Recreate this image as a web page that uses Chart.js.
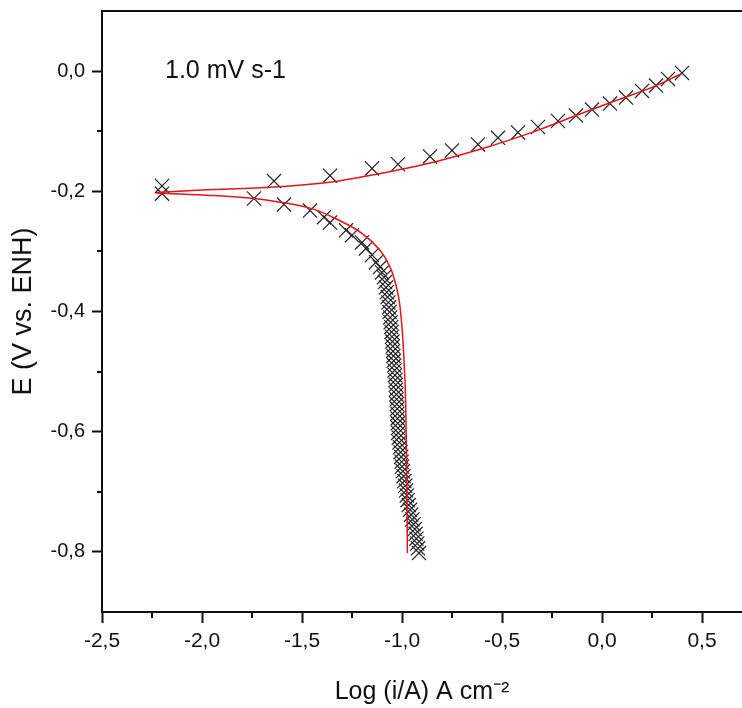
<!DOCTYPE html>
<html lang="en">
<head>
    <meta charset="UTF-8">
    <title>Tafel plot</title>
    <style>
        html, body {
            margin: 0;
            padding: 0;
            background: #fff;
        }
    </style>
</head>
<body>
    <canvas id="tafel" width="742" height="708"></canvas>

    <script src="https://cdn.jsdelivr.net/npm/chart.js"></script>
    <script>
        // measured points (crosses)
        const anodicLogI = [-2.20, -1.64, -1.36, -1.15, -1.02, -0.86, -0.75, -0.62, -0.52, -0.42,
                            -0.32, -0.22, -0.13, -0.05, 0.04, 0.12, 0.20, 0.27, 0.33, 0.40];
        const anodicE = [-0.191, -0.183, -0.174, -0.162, -0.155, -0.142, -0.132, -0.122, -0.111, -0.102,
                         -0.093, -0.083, -0.074, -0.064, -0.054, -0.044, -0.033, -0.024, -0.013, -0.003];

        const cathodicLogI = [-2.20, -1.74, -1.59, -1.46, -1.39, -1.36, -1.28, -1.25, -1.20, -1.18,
                              -1.15, -1.13, -1.11, -1.10, -1.090, -1.085, -1.080, -1.076, -1.072, -1.068,
                              -1.065, -1.062, -1.059, -1.057, -1.054, -1.052, -1.050, -1.048, -1.046, -1.045,
                              -1.043, -1.041, -1.039, -1.037, -1.035, -1.033, -1.031, -1.030, -1.028, -1.027,
                              -1.026, -1.024, -1.023, -1.022, -1.021, -1.020, -1.019, -1.016, -1.013, -1.010,
                              -1.007, -1.004, -1.002, -1.000, -0.996, -0.992, -0.988, -0.984, -0.980, -0.976,
                              -0.972, -0.966, -0.960, -0.954, -0.948, -0.942, -0.936, -0.932, -0.928, -0.924,
                              -0.920, -0.915];
        const cathodicE = [-0.204, -0.212, -0.222, -0.232, -0.243, -0.252, -0.265, -0.273, -0.285, -0.295,
                           -0.306, -0.318, -0.326, -0.335, -0.343, -0.351, -0.360, -0.368, -0.376, -0.385,
                           -0.393, -0.401, -0.410, -0.418, -0.426, -0.434, -0.442, -0.450, -0.458, -0.466,
                           -0.474, -0.482, -0.490, -0.498, -0.506, -0.514, -0.522, -0.530, -0.538, -0.546,
                           -0.554, -0.562, -0.570, -0.578, -0.586, -0.594, -0.602, -0.610, -0.618, -0.626,
                           -0.634, -0.642, -0.650, -0.658, -0.666, -0.674, -0.682, -0.690, -0.698, -0.706,
                           -0.714, -0.722, -0.730, -0.738, -0.746, -0.754, -0.762, -0.770, -0.778, -0.786,
                           -0.794, -0.802];

        // fitted curves (red)
        const fitAnodicLogI = [-2.23, -2.00, -1.64, -1.36, -1.15, -0.86, -0.55, -0.35, -0.13, 0.07, 0.25, 0.40];
        const fitAnodicE = [-0.202, -0.198, -0.193, -0.185, -0.173, -0.153, -0.124, -0.102, -0.074, -0.049, -0.027, -0.004];

        const fitCathodicLogI = [-2.23, -2.00, -1.74, -1.46, -1.31, -1.20, -1.11, -1.06, -1.035, -1.015,
                                 -1.00, -0.99, -0.983, -0.978, -0.973];
        const fitCathodicE = [-0.203, -0.206, -0.212, -0.228, -0.249, -0.270, -0.298, -0.326, -0.350, -0.380,
                              -0.426, -0.481, -0.536, -0.631, -0.802];

        // axis ticks
        const xMajorTicks = [-2.5, -2.0, -1.5, -1.0, -0.5, 0.0, 0.5];
        const xMinorTicks = [-2.25, -1.75, -1.25, -0.75, -0.25, 0.25];
        const yMajorTicks = [-0.8, -0.6, -0.4, -0.2, 0.0];
        const yMinorTicks = [-0.7, -0.5, -0.3, -0.1];

        const FONT = '"Liberation Sans", Arial, sans-serif';
        const INK = '#111';

        function pairs(xs, ys) {
            return xs.map((x, i) => ({ x: x, y: ys[i] }));
        }

        function commaLabel(v) {
            return Number(v).toFixed(1).replace('.', ',');
        }

        // top frame line, minor ticks and the scan-rate note
        const extras = {
            id: 'extras',
            afterDraw(chart) {
                const { ctx, chartArea: a, scales: { x, y } } = chart;
                ctx.save();
                ctx.strokeStyle = INK;
                ctx.lineWidth = 2;
                ctx.beginPath();
                ctx.moveTo(a.left - 1, a.top);
                ctx.lineTo(a.right, a.top);
                xMinorTicks.forEach(v => {
                    const px = Math.round(x.getPixelForValue(v));
                    ctx.moveTo(px, a.bottom);
                    ctx.lineTo(px, a.bottom + 6);
                });
                yMinorTicks.forEach(v => {
                    const py = Math.round(y.getPixelForValue(v));
                    ctx.moveTo(a.left, py);
                    ctx.lineTo(a.left - 5, py);
                });
                ctx.stroke();

                ctx.fillStyle = INK;
                ctx.font = '25px ' + FONT;
                ctx.textBaseline = 'alphabetic';
                ctx.fillText('1.0 mV s-1', x.getPixelForValue(-2.185), y.getPixelForValue(-0.0115));
                ctx.restore();
            }
        };

        const ctx = document.getElementById('tafel').getContext('2d');

        new Chart(ctx, {
            type: 'scatter',
            data: {
                datasets: [
                    {
                        label: 'fit anodic',
                        data: pairs(fitAnodicLogI, fitAnodicE),
                        showLine: true,
                        borderColor: '#e3151b',
                        borderWidth: 1.5,
                        pointRadius: 0,
                        tension: 0.35,
                        order: 1
                    },
                    {
                        label: 'fit cathodic',
                        data: pairs(fitCathodicLogI, fitCathodicE),
                        showLine: true,
                        borderColor: '#e3151b',
                        borderWidth: 1.5,
                        pointRadius: 0,
                        tension: 0.35,
                        order: 1
                    },
                    {
                        label: 'anodic',
                        data: pairs(anodicLogI, anodicE),
                        showLine: false,
                        pointStyle: 'crossRot',
                        pointRadius: 10,
                        pointBorderWidth: 1.2,
                        pointBorderColor: '#222',
                        order: 2
                    },
                    {
                        label: 'cathodic',
                        data: pairs(cathodicLogI, cathodicE),
                        showLine: false,
                        pointStyle: 'crossRot',
                        pointRadius: 10,
                        pointBorderWidth: 1.2,
                        pointBorderColor: '#222',
                        order: 2
                    }
                ]
            },
            options: {
                responsive: false,
                animation: false,
                layout: {
                    autoPadding: false,
                    padding: { top: 11, right: 0, bottom: 0, left: 0 }
                },
                plugins: {
                    legend: { display: false },
                    tooltip: { enabled: false }
                },
                scales: {
                    x: {
                        type: 'linear',
                        min: -2.5,
                        max: 0.7,
                        afterBuildTicks: s => { s.ticks = xMajorTicks.map(v => ({ value: v })); },
                        afterFit: s => {
                            s.height = 96;
                            s.paddingLeft = 0;
                            s.paddingRight = 0;
                        },
                        ticks: {
                            callback: v => commaLabel(v),
                            font: { family: FONT, size: 21 },
                            color: INK,
                            padding: 6,
                            maxRotation: 0,
                            autoSkip: false
                        },
                        grid: {
                            drawOnChartArea: false,
                            tickLength: 11,
                            tickWidth: 2,
                            color: INK
                        },
                        border: { color: INK, width: 2 },
                        title: {
                            display: true,
                            text: 'Log (i/A) A cm⁻²',
                            font: { family: FONT, size: 25 },
                            color: INK,
                            padding: { top: 0, bottom: 1 }
                        }
                    },
                    y: {
                        type: 'linear',
                        min: -0.9,
                        max: 0.1,
                        afterBuildTicks: s => { s.ticks = yMajorTicks.map(v => ({ value: v })); },
                        afterFit: s => {
                            s.width = 102;
                            s.paddingTop = 0;
                            s.paddingBottom = 0;
                        },
                        ticks: {
                            callback: v => commaLabel(v),
                            font: { family: FONT, size: 20 },
                            color: INK,
                            padding: 7
                        },
                        grid: {
                            drawOnChartArea: false,
                            tickLength: 10,
                            tickWidth: 2,
                            color: INK
                        },
                        border: { color: INK, width: 2 },
                        title: {
                            display: true,
                            text: 'E (V vs. ENH)',
                            font: { family: FONT, size: 27 },
                            color: INK,
                            padding: { top: 7, bottom: 0 }
                        }
                    }
                }
            },
            plugins: [extras]
        });
    </script>
</body>
</html>
